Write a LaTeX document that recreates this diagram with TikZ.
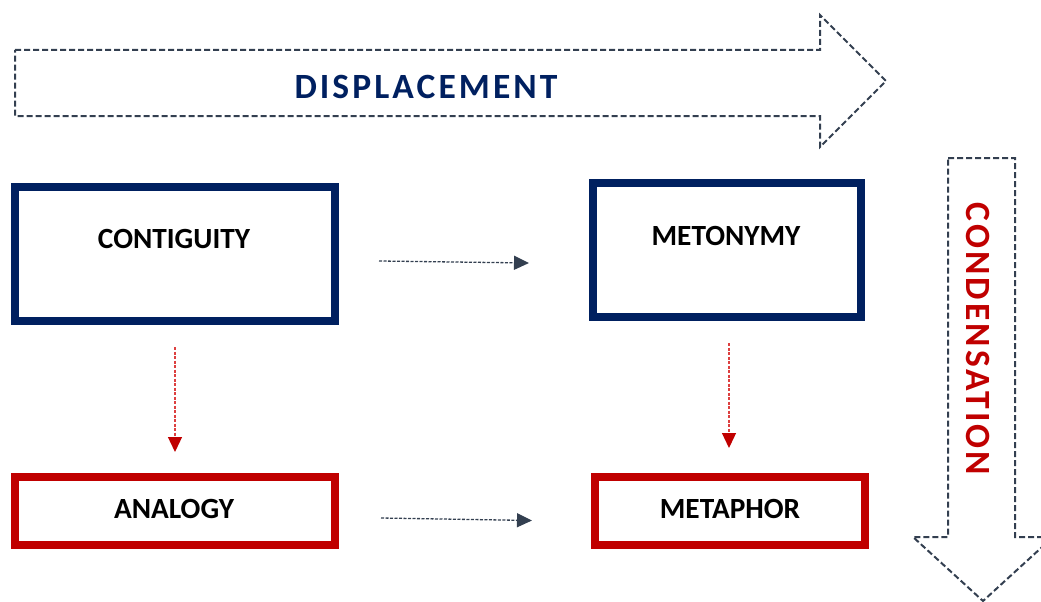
\documentclass[tikz,border=0pt]{standalone}
\usepackage{fontspec}
\setmainfont{Carlito}
\usetikzlibrary{arrows.meta}
\definecolor{navy}{HTML}{002060}
\definecolor{deepred}{HTML}{C00000}
\definecolor{lightred}{HTML}{DD4040}
\definecolor{slate}{HTML}{333F50}
\tikzset{
  bluebox/.style={draw=navy, line width=8pt, inner sep=0pt},
  redbox/.style={draw=deepred, line width=8pt, inner sep=0pt},
  lbl/.style={font=\fontsize{29.3}{32}\selectfont\bfseries, text=black, inner sep=0pt},
  bigarrow/.style={draw=slate, line width=2pt, dash pattern=on 6pt off 3pt, line join=miter},
  bigtext/.style={font=\fontsize{35.5}{40}\selectfont\bfseries\addfontfeature{LetterSpace=8.7}, inner sep=0pt},
  darkconn/.style={draw=slate, line width=1.3pt, dash pattern=on 3pt off 1.5pt,
    -{Triangle[length=15pt,width=14pt,fill=slate]}},
  redconn/.style={draw=lightred, line width=1.3pt, dash pattern=on 3pt off 1.5pt,
    -{Triangle[length=15pt,width=14pt,fill=deepred,color=deepred]}},
}
\begin{document}
\begin{tikzpicture}[x=1pt, y=-1pt]
\useasboundingbox (0,0) rectangle (1041,602);

% horizontal block arrow
\draw[bigarrow] (15,50) -- (820,50) -- (820,15) -- (886,81) -- (820,147)
  -- (820,116) -- (15,116) -- cycle;
\node[bigtext, text=navy] (displacement) at (426,87) {DISPLACEMENT};

% vertical block arrow
\draw[bigarrow] (948,158) -- (1015,158) -- (1015,537) -- (1053,537) -- (983,601)
  -- (913,537) -- (948,537) -- cycle;
\node[bigtext, text=deepred, rotate=-90] (condensation) at (978,339) {CONDENSATION};

% boxes
\node[bluebox, minimum width=320pt, minimum height=134pt] (contiguity) at (175,253.7) {};
\node[lbl] (contiguitytext) at (174,239) {CONTIGUITY};

\node[bluebox, minimum width=268pt, minimum height=133.7pt] (metonymy) at (727,249.8) {};
\node[lbl] (metonymytext) at (726,236) {METONYMY};

\node[redbox, minimum width=320pt, minimum height=68.3pt] (analogy) at (175,510.8) {};
\node[lbl] (analogytext) at (174,509) {ANALOGY};

\node[redbox, minimum width=270pt, minimum height=68.3pt] (metaphor) at (730,510.8) {};
\node[lbl] (metaphortext) at (730,509) {METAPHOR};

% connector ends
\coordinate (c2m-a) at (379,261);
\coordinate (c2m-b) at (529,263);
\coordinate (a2p-a) at (381,518);
\coordinate (a2p-b) at (532,520.5);
\coordinate (c2a-a) at (175,347);
\coordinate (c2a-b) at (175,452);
\coordinate (m2p-a) at (729,343);
\coordinate (m2p-b) at (729,448);

\draw[darkconn] (c2m-a) -- (c2m-b);
\draw[darkconn] (a2p-a) -- (a2p-b);
\draw[redconn] (c2a-a) -- (c2a-b);
\draw[redconn] (m2p-a) -- (m2p-b);
\end{tikzpicture}
\end{document}
